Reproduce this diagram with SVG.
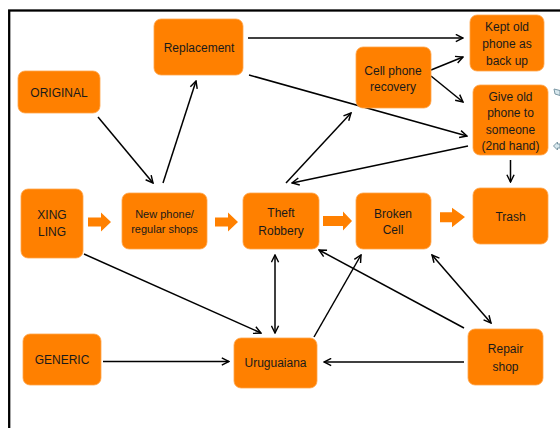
<svg xmlns="http://www.w3.org/2000/svg" width="560" height="428" viewBox="0 0 560 428">
<defs>
<style>
.box{fill:#FF8000;stroke:#FFA54A;stroke-width:0.8}
.t{font-family:"Liberation Sans",Arial,sans-serif;font-size:12px;fill:#1a1a1a;text-anchor:middle}
.s{font-size:11px}
.c{fill:none;stroke:#000;stroke-width:1.5}
.blk{fill:#FF8000}
</style>
<marker id="ah" viewBox="0 0 10 10" refX="9" refY="5" markerWidth="9" markerHeight="9" markerUnits="userSpaceOnUse" orient="auto-start-reverse">
<path d="M1,1 L9,5 L1,9" fill="none" stroke="#000" stroke-width="1.6"/>
</marker>
</defs>
<rect x="0" y="0" width="560" height="428" fill="#fff"/>
<rect x="9.2" y="10.5" width="600" height="460" fill="none" stroke="#000" stroke-width="2.3"/>

<g id="connectors">
<line class="c" x1="98" y1="117" x2="153" y2="183" marker-end="url(#ah)"/>
<line class="c" x1="163" y1="183" x2="196" y2="81" marker-end="url(#ah)"/>
<line class="c" x1="248" y1="38" x2="463" y2="38" marker-end="url(#ah)"/>
<line class="c" x1="249" y1="75" x2="467" y2="136" marker-end="url(#ah)"/>
<line class="c" x1="431" y1="70" x2="463" y2="57" marker-end="url(#ah)"/>
<line class="c" x1="431" y1="76" x2="463" y2="102" marker-end="url(#ah)"/>
<line class="c" x1="286" y1="183" x2="351" y2="113" marker-end="url(#ah)"/>
<line class="c" x1="468" y1="146" x2="292" y2="183" marker-end="url(#ah)"/>
<line class="c" x1="510.5" y1="160" x2="510.5" y2="182" marker-end="url(#ah)"/>
<line class="c" x1="275" y1="255" x2="275" y2="333" marker-start="url(#ah)" marker-end="url(#ah)"/>
<line class="c" x1="84" y1="254" x2="261" y2="333" marker-end="url(#ah)"/>
<line class="c" x1="103" y1="361.5" x2="229" y2="361.5" marker-end="url(#ah)"/>
<line class="c" x1="314" y1="337" x2="361" y2="255" marker-end="url(#ah)"/>
<line class="c" x1="464" y1="328" x2="319" y2="250" marker-end="url(#ah)"/>
<line class="c" x1="432" y1="255" x2="491" y2="323" marker-start="url(#ah)" marker-end="url(#ah)"/>
<line class="c" x1="464" y1="362" x2="324" y2="362" marker-end="url(#ah)"/>
<polygon class="blk" points="88,217.5 101,217.5 101,212.5 111,222 101,231.5 101,226.5 88,226.5"/>
<polygon class="blk" points="215,217.5 228,217.5 228,212.5 238,222 228,231.5 228,226.5 215,226.5"/>
<polygon class="blk" points="323,216 343,216 343,211.5 352,221 343,230.5 343,226 323,226"/>
<polygon class="blk" points="440,212.3 452,212.3 452,207.7 465,217 452,227.3 452,222.3 440,222.3"/>
</g>

<g id="side">
<polygon points="554,89 560,90.5 560,95.5 555,94" fill="#d8e8ee" stroke="#7a97a4" stroke-width="1"/>
<polygon points="553.5,146 557.5,142 557.5,144 560,144 560,148 557.5,148 557.5,150" fill="#d8e8ee" stroke="#7a97a4" stroke-width="1"/>
</g>

<g id="replacement"><rect class="box" x="154" y="19" width="89" height="56" rx="7"/><text class="t" x="199" y="52">Replacement</text></g>
<g id="original"><rect class="box" x="18" y="71" width="82" height="42" rx="7"/><text class="t" x="59" y="97">ORIGINAL</text></g>
<g id="kept"><rect class="box" x="470" y="15" width="74" height="56" rx="7"/>
<text class="t" x="507" y="31">Kept old</text><text class="t" x="507" y="48">phone as</text><text class="t" x="507" y="65">back up</text></g>
<g id="recovery"><rect class="box" x="356" y="47" width="75" height="61" rx="7"/>
<text class="t" x="393" y="75">Cell phone</text><text class="t" x="393" y="91">recovery</text></g>
<g id="give"><rect class="box" x="473" y="85" width="75" height="70" rx="7"/>
<text class="t" x="510.5" y="100.5">Give old</text><text class="t" x="510.5" y="117">phone to</text><text class="t" x="510.5" y="133.5">someone</text><text class="t" x="510.5" y="150">(2nd hand)</text></g>
<g id="xingling"><rect class="box" x="21" y="189" width="62" height="69" rx="7"/>
<text class="t" x="52" y="219">XING</text><text class="t" x="52" y="236">LING</text></g>
<g id="newphone"><rect class="box" x="122" y="193" width="85" height="56" rx="7"/>
<text class="t s" x="164.5" y="218">New phone/</text><text class="t s" x="164.5" y="233">regular shops</text></g>
<g id="theft"><rect class="box" x="243" y="193" width="76" height="56" rx="7"/>
<text class="t" x="281" y="217">Theft</text><text class="t" x="281" y="235">Robbery</text></g>
<g id="broken"><rect class="box" x="356" y="193" width="75" height="56" rx="7"/>
<text class="t" x="393" y="218">Broken</text><text class="t" x="393" y="234">Cell</text></g>
<g id="trash"><rect class="box" x="473" y="188" width="75" height="56" rx="7"/><text class="t" x="510.5" y="221">Trash</text></g>
<g id="generic"><rect class="box" x="23" y="334" width="78" height="51" rx="7"/><text class="t" x="62" y="364">GENERIC</text></g>
<g id="uruguaiana"><rect class="box" x="234" y="338" width="83" height="50" rx="7"/><text class="t" x="275.5" y="367">Uruguaiana</text></g>
<g id="repair"><rect class="box" x="468" y="329" width="75" height="56" rx="7"/>
<text class="t" x="505.5" y="353">Repair</text><text class="t" x="505.5" y="371">shop</text></g>
</svg>
